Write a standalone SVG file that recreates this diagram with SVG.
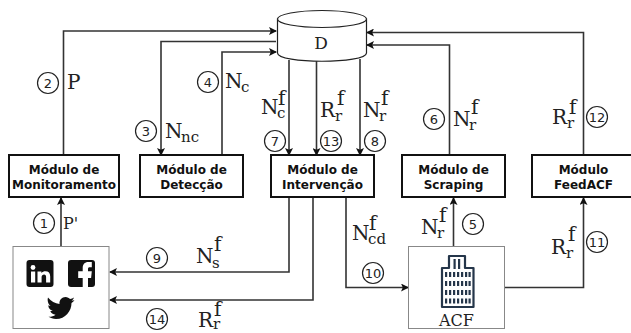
<svg xmlns="http://www.w3.org/2000/svg" width="631" height="333" viewBox="0 0 631 333">
<style>
.box{fill:#fff;stroke:#111;stroke-width:2}
.plain{fill:#fff;stroke:#888;stroke-width:1}
.lbl{font:bold 12px "DejaVu Sans",sans-serif;fill:#111;text-anchor:middle}
.c{fill:none;stroke:#333;stroke-width:1.6}
.m{font-family:"DejaVu Serif",serif;font-size:20px;fill:#222}
.s{font-family:"DejaVu Serif",serif;font-size:15px;fill:#222}
.n circle{fill:#fff;stroke:#222;stroke-width:1.2}
.n text{font:13px "DejaVu Sans",sans-serif;fill:#222;text-anchor:middle}
</style>
<defs>
<marker id="a" markerWidth="8" markerHeight="8" refX="7" refY="4" orient="auto" markerUnits="userSpaceOnUse"><path d="M0 0L8 4L0 8L1.800 4Z" fill="#111"/></marker>
<path id="row" d="M445 0h2.200v5h-2.200zM449 0h2.200v5h-2.200zM453 0h2.200v5h-2.200zM457 0h2.200v5h-2.200zM461 0h2.200v5h-2.200zM465 0h2.200v5h-2.200zM468.500 0h2.200v5h-2.200z" fill="#25364a"/>
</defs>
<g id="connectors">
<path class="c" marker-end="url(#a)" d="M63.500 155V31H276"/>
<path class="c" marker-end="url(#a)" d="M276 41.500H161V155"/>
<path class="c" marker-end="url(#a)" d="M222 155V52H276"/>
<path class="c" marker-end="url(#a)" d="M289 60V155"/>
<path class="c" marker-end="url(#a)" d="M316.500 61V155"/>
<path class="c" marker-end="url(#a)" d="M360 59V155"/>
<path class="c" marker-end="url(#a)" d="M449.500 155V45H367"/>
<path class="c" marker-end="url(#a)" d="M583.500 155V32.500H367"/>
<path class="c" marker-end="url(#a)" d="M61 246V198"/>
<path class="c" marker-end="url(#a)" d="M289 197V272H110"/>
<path class="c" marker-end="url(#a)" d="M313 197V300H110"/>
<path class="c" marker-end="url(#a)" d="M346 197V287.500H408"/>
<path class="c" marker-end="url(#a)" d="M453.500 246V198"/>
<path class="c" marker-end="url(#a)" d="M505 287.500H583.500V198"/>
</g>
<g id="db">
<path d="M277.500 19V53C277.500 64 366.500 64 366.500 53V19Z" fill="#fff" stroke="#222" stroke-width="1.200"/>
<ellipse cx="322" cy="19" rx="44.500" ry="8.500" fill="#fff" stroke="#222" stroke-width="1.200"/>
<text x="321" y="49" class="m" text-anchor="middle" style="font-size:17px">D</text>
</g>
<g id="mod-monitoramento"><rect class="box" x="9" y="155" width="110" height="42"/><text class="lbl" x="64" y="174">Módulo de</text><text class="lbl" x="64" y="189">Monitoramento</text></g>
<g id="mod-deteccao"><rect class="box" x="140" y="155" width="103" height="42"/><text class="lbl" x="191.500" y="174">Módulo de</text><text class="lbl" x="191.500" y="189">Detecção</text></g>
<g id="mod-intervencao"><rect class="box" x="271" y="155" width="103" height="42"/><text class="lbl" x="322.500" y="174">Módulo de</text><text class="lbl" x="322.500" y="189">Intervenção</text></g>
<g id="mod-scraping"><rect class="box" x="402" y="155" width="103" height="42"/><text class="lbl" x="453.500" y="174">Módulo de</text><text class="lbl" x="453.500" y="189">Scraping</text></g>
<g id="mod-feedacf"><rect class="box" x="532" y="155" width="103" height="42"/><text class="lbl" x="583.500" y="174">Módulo</text><text class="lbl" x="583.500" y="189">FeedACF</text></g>
<g id="social">
<rect class="plain" x="13" y="246.500" width="96" height="82"/>
<rect x="26.500" y="260" width="27" height="27" rx="3" fill="#111"/>
<rect x="31" y="271.500" width="4.200" height="11" fill="#fff"/><circle cx="33" cy="267.500" r="2.400" fill="#fff"/>
<path d="M37.500 271.500h3.900v1.600c1-1.300 2.400-1.900 4-1.900 3.200 0 4.800 1.900 4.800 5.200v6.100h-4.100v-5.500c0-1.700-.7-2.600-2-2.600s-2.500.9-2.500 2.600v5.500h-4.100z" fill="#fff"/>
<rect x="68" y="260" width="27" height="27" rx="3" fill="#111"/>
<path d="M82.700 287V278h-4.500v-6.800h4.500v-3.200c0-3.700 2.200-6 5.500-6h3.600v5.300h-2c-1.300 0-1.800.6-1.800 1.900v2h3.800l-.7 6.800h-3.100v9z" fill="#fff"/>
<path d="M48 297.500C51 301 55 303.500 59.500 304C59 300 62 297 65.500 297C67.500 297 69 298 70 299C71.500 298.700 72.800 298.200 74 297.500C73.500 299 72.500 300 71.500 300.800C72.500 300.700 73.500 300.400 74.500 300C73.700 301.200 72.700 302.200 71.500 303C71.500 311 65.500 319 56 319C53 319 50.500 318 48.500 316.800C51 317 53.500 316.200 55.500 314.700C53 314.600 51 313 50.300 311C51.200 311.100 52 311 52.700 310.800C50 310.200 48.300 308 48.300 305.300C49 305.700 49.800 306 50.600 306C48.300 304.400 47 300.500 48 297.500Z" fill="#111"/>
</g>
<g id="acf">
<rect class="plain" x="408.500" y="246.500" width="96" height="82"/>
<path d="M442 307V268H449V256H465V268H473.500V307Z" fill="#fff" stroke="#25364a" stroke-width="2.200" stroke-linejoin="round"/>
<path d="M453.500 259h2.200v10h-2.200zM458 259h2.200v10h-2.200z" fill="#25364a"/>
<use href="#row" y="272"/><use href="#row" y="281"/><use href="#row" y="290"/><use href="#row" y="298.500"/>
<text x="456.500" y="326" class="s" text-anchor="middle" style="font-size:16px">ACF</text>
</g>
<g id="labels">
<text class="m" x="67" y="89">P</text>
<text class="s" x="63" y="229" style="font-size:16px">P'</text>
<text class="m" x="165" y="138">N<tspan class="s" x="181" dy="4">nc</tspan></text>
<text class="m" x="225" y="88">N<tspan class="s" x="241" dy="4">c</tspan></text>
<text class="m" x="261" y="114">N<tspan class="s" x="277" dy="4">c</tspan><tspan x="278" dy="-13">f</tspan></text>
<text class="m" x="320" y="117">R<tspan class="s" x="335" dy="4">r</tspan><tspan x="337" dy="-16">f</tspan></text>
<text class="m" x="363" y="117">N<tspan class="s" x="379" dy="4">r</tspan><tspan x="381" dy="-16">f</tspan></text>
<text class="m" x="453" y="126">N<tspan class="s" x="469" dy="4">r</tspan><tspan x="471" dy="-16">f</tspan></text>
<text class="m" x="552" y="124">R<tspan class="s" x="567" dy="4">r</tspan><tspan x="569" dy="-14">f</tspan></text>
<text class="m" x="196" y="263">N<tspan class="s" x="212" dy="5">s</tspan><tspan x="214" dy="-17">f</tspan></text>
<text class="m" x="198" y="327">R<tspan class="s" x="213" dy="2">r</tspan><tspan x="214" dy="-13">f</tspan></text>
<text class="m" x="352" y="240">N<tspan class="s" x="368" dy="4">cd</tspan><tspan x="369" dy="-14">f</tspan></text>
<text class="m" x="421" y="234">N<tspan class="s" x="437" dy="4">r</tspan><tspan x="439" dy="-16">f</tspan></text>
<text class="m" x="551" y="254">R<tspan class="s" x="566" dy="4">r</tspan><tspan x="568" dy="-17">f</tspan></text>
</g>
<g id="numbers" class="n">
<circle cx="48" cy="83" r="10.500"/><text x="48" y="87.500">2</text>
<circle cx="146" cy="131" r="10.500"/><text x="146" y="135.500">3</text>
<circle cx="208" cy="82" r="10.500"/><text x="208" y="86.500">4</text>
<circle cx="275" cy="141" r="10.500"/><text x="275" y="145.500">7</text>
<circle cx="331" cy="141" r="10.500"/><text x="331" y="145.500">13</text>
<circle cx="375" cy="141" r="10.500"/><text x="375" y="145.500">8</text>
<circle cx="434" cy="119" r="10.500"/><text x="434" y="123.500">6</text>
<circle cx="597" cy="117" r="10.500"/><text x="597" y="121.500">12</text>
<circle cx="44" cy="223" r="10.500"/><text x="44" y="227.500">1</text>
<circle cx="157" cy="258" r="10.500"/><text x="157" y="262.500">9</text>
<circle cx="157" cy="319" r="10.500"/><text x="157" y="323.500">14</text>
<circle cx="473" cy="224" r="10.500"/><text x="473" y="228.500">5</text>
<circle cx="373" cy="273" r="10.500"/><text x="373" y="277.500">10</text>
<circle cx="597" cy="242" r="10.500"/><text x="597" y="246.500">11</text>
</g>
</svg>
